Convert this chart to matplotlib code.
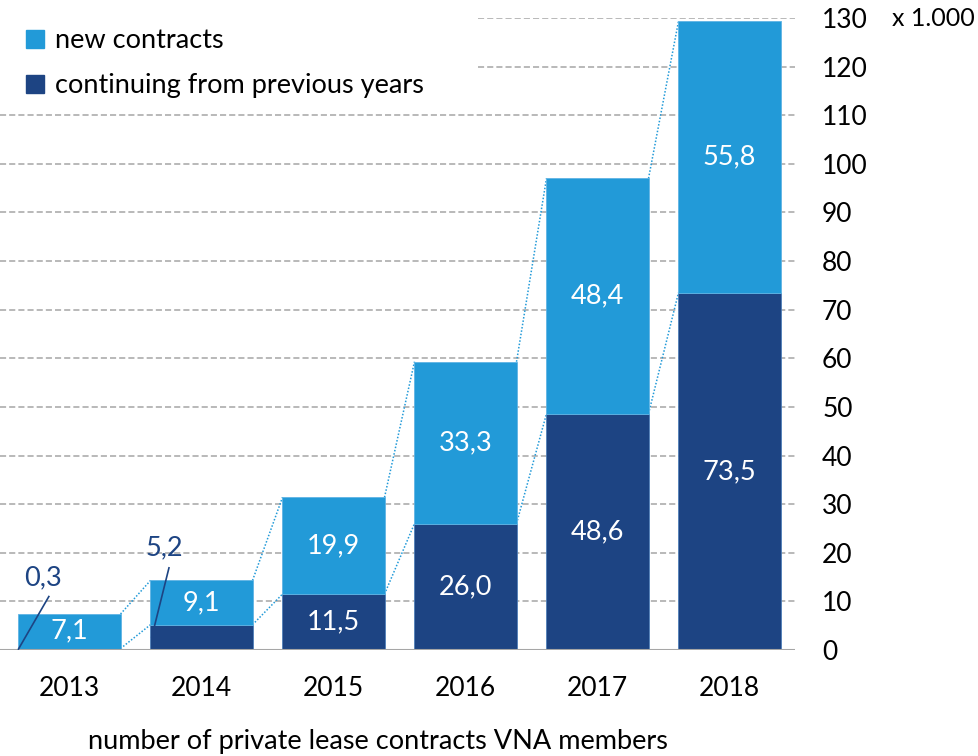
import matplotlib.pyplot as plt
import numpy as np
from matplotlib.patches import Patch

plt.rcParams['font.family'] = ['Lato', 'DejaVu Sans']

# Datos
years = ['2013', '2014', '2015', '2016', '2017', '2018']
continuing = np.array([0.3, 5.2, 11.5, 26.0, 48.6, 73.5])
new = np.array([7.1, 9.1, 19.9, 33.3, 48.4, 55.8])
yticks = np.arange(0, 131, 10)

dark = '#1D4483'
light = '#229AD8'

fig = plt.figure(figsize=(9.79, 7.56), dpi=100)
ax = fig.add_axes([0, 106 / 756, 795 / 979, 632 / 756])

x = np.arange(len(years))
w = 0.773
total = continuing + new

# grid (the legend sits over the upper left)
for yv in yticks[1:]:
    xmin = 478 / 795 if yv >= 120 else 0
    ax.axhline(yv, xmin=xmin, color='#A6A6A6', lw=1.1, ls=(0, (4, 2)), zorder=0)
ax.axhline(0, color='#A6A6A6', lw=1.5, zorder=3)

ax.bar(x, continuing, w, color=dark, edgecolor='#4F7FB8', lw=0.6, zorder=2)
ax.bar(x, new, w, bottom=continuing, color=light, edgecolor='#5FB4E4', lw=0.6, zorder=2)

# series lines between bars
for i in range(len(x) - 1):
    for vals in (total, continuing):
        ax.plot([x[i] + w / 2, x[i + 1] - w / 2], [vals[i], vals[i + 1]],
                color=light, lw=1.1, ls=(0, (1, 1.2)), zorder=1)

# value labels
fs = 19.5
for i in range(len(x)):
    ax.text(x[i], continuing[i] + new[i] / 2, f'{new[i]:.1f}'.replace('.', ','),
            color='white', ha='center', va='center', fontsize=fs, zorder=4)
    if continuing[i] > 8:
        ax.text(x[i], continuing[i] / 2, f'{continuing[i]:.1f}'.replace('.', ','),
                color='white', ha='center', va='center', fontsize=fs, zorder=4)

# small values with leader lines
ax.plot([x[0] - w / 2, x[0] - w / 2 + 0.23], [0.2, 11.0], color=dark, lw=1.2, zorder=4)
ax.text(x[0] - 0.2, 14.9, '0,3', color=dark, ha='center', va='center', fontsize=fs)
ax.plot([x[1] - w / 2 + 0.01, x[1] - w / 2 + 0.14], [2.7, 16.9], color=dark, lw=1.2, zorder=4)
ax.text(x[1] - 0.28, 21.0, '5,2', color=dark, ha='center', va='center', fontsize=fs)

ax.set_xlim(-69.5 / 132, (795 - 69.5) / 132)
ax.set_ylim(0, 130)
ax.set_xticks(x)
ax.set_xticklabels(years, fontsize=19)
ax.yaxis.tick_right()
ax.set_yticks(yticks)
ax.set_yticklabels([str(v) for v in yticks], fontsize=19, ha='left')
ax.tick_params(axis='y', length=0, pad=19.5)
ax.tick_params(axis='x', length=0, pad=19)
for s in ax.spines.values():
    s.set_visible(False)

fig.text(892 / 979, 1 - 18 / 756, 'x 1.000', fontsize=18, va='center', ha='left')
fig.text(378 / 979, 1 - 742 / 756, 'number of private lease contracts VNA members',
         fontsize=fs, va='center', ha='center')

handles = [Patch(color=light, label='new contracts'),
           Patch(color=dark, label='continuing from previous years')]
leg = ax.legend(handles=handles, loc='upper left', bbox_to_anchor=(2 / 979, 1 - 4 / 756),
                bbox_transform=fig.transFigure, frameon=False, fontsize=fs,
                handlelength=0.64, handleheight=0.64, handletextpad=0.4, labelspacing=0.73)

plt.savefig('out.png', dpi=100)
